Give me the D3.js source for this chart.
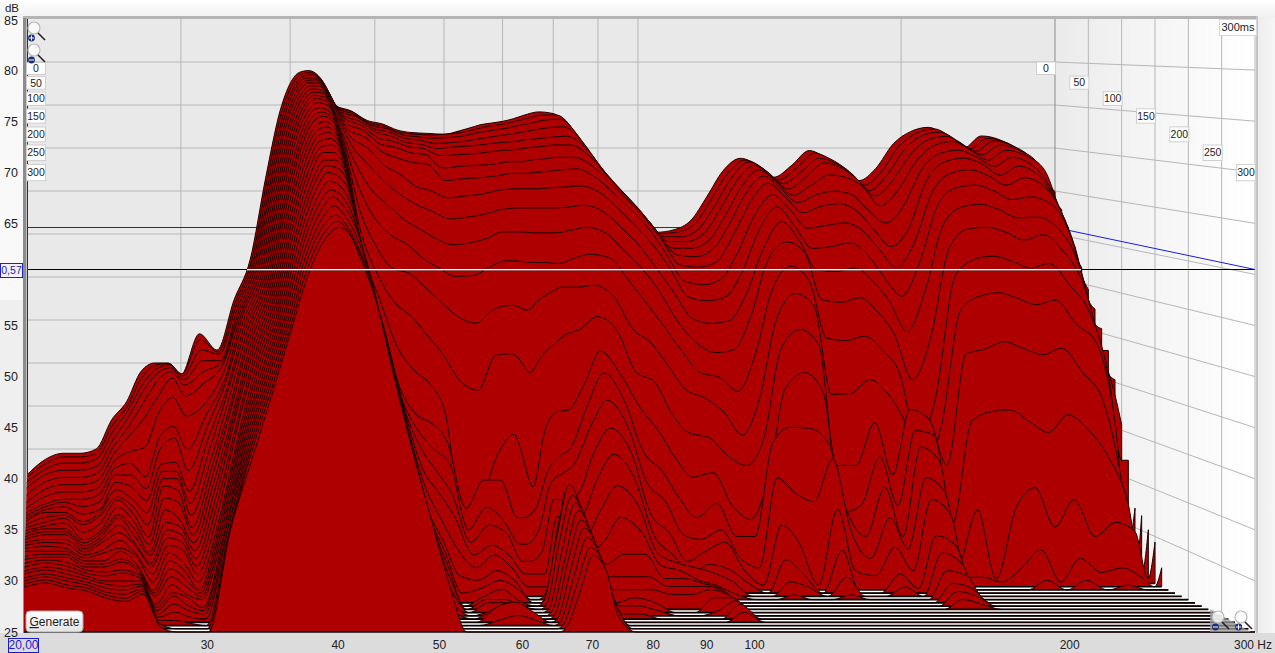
<!DOCTYPE html>
<html><head><meta charset="utf-8">
<script src="https://cdn.jsdelivr.net/npm/d3@7/dist/d3.min.js"></script>
<style>html,body{margin:0;padding:0;background:#fff;overflow:hidden}svg{display:block}text{font-family:"Liberation Sans",Arial,sans-serif}</style>
</head><body><svg id="c" width="1275" height="653"></svg>
<script>
const freqs=[20,21,22,23,24,25,26,27,28,29,30,31.5,33,34.5,36,37.5,39,40,41,42,43.5,45,47,49,51,53,55,57.5,60,62.5,65,66,68,70,72,74,77,80,84,88,92,96,100,105,110,115,120,125,131,137,143,150,157,164,171,179,187,196,205,215,225,236,247,260,273,286,295,300];
const t0=[32,33.8,34.5,34.5,35,38.4,40.5,44,45,45,43.6,48.4,46.5,52.3,57,66.5,74.5,77.5,78.8,79,77.9,75,74.3,73.2,72.8,72.1,71.8,71.7,71.6,72,72.5,72.7,72.9,73.1,73.4,73.8,74.2,74,72.1,68.5,65.9,63.7,61.8,60.2,60.5,61.6,64.4,67.3,68.8,68,66.6,68,69.7,68.9,67.8,66.2,67.6,70.5,71.9,72.4,71.4,70,71.4,70.9,69.5,67.4,65.7,64.9];
const t10=[32,33.6,34.4,34.4,34.8,38,40.2,43.5,45,45.2,44,48,46.5,52.2,57,66.4,74.4,77.3,78.6,78.8,77.6,74.9,74.2,73,72.6,71.9,71.7,71.6,71.7,71.9,72.3,72.5,72.7,72.9,73.2,73.5,73.9,73.9,71.9,68.5,66,63.8,61.9,60.2,60.4,61.4,64.2,67.1,68.7,67.8,66.4,67.8,69.5,68.8,67.6,65.8,67.3,70.3,71.8,72.3,71.3,70,71.2,70.7,69.2,66.4,63.8,63];
const t20=[31.8,33.3,34,34,34.5,37.6,40,43,44.8,45.3,44,47,46.5,52.2,57,66.3,74.2,77.1,78.4,78.6,77.2,74.7,74,72.8,72.4,71.7,71.5,71.3,71.4,71.6,72,72.1,72.3,72.5,72.8,73,73.4,73.5,71.5,68.4,66,63.9,61.9,60,60,61,63.8,66.8,68.6,67.5,66.1,67.5,69,68.4,67.2,65.3,67,70,71.6,72,71,69.8,71,70.4,68.9,65.3,61.9,61.1];
const t30=[31.5,33,33.5,33.5,34,37,39.5,42.5,44.5,45.2,43.8,46,46,52.1,57,66.2,74.1,77,78.2,78.3,76.8,74.4,73.8,72.5,72.1,71.4,71.2,70.8,70.9,71.1,71.4,71.5,71.7,71.9,72.1,72.3,72.6,72.7,71,68.2,65.8,63.8,61.8,59.6,59.6,60.5,63.3,66.4,68.3,67,65.6,67,68.6,68,66.7,64.8,66.5,69.5,71.2,71.6,70.6,69.5,70.6,70,68.4,63.8,60,59];
const t40=[31,32.5,33,33,33.5,36.5,38.8,41.5,44,45,43.5,45,46,52,57,66.2,73.9,76.8,78,78.1,76.4,74.1,73.4,72.2,71.7,71,70.8,70.3,70.5,70.6,70.8,70.9,71,71.1,71.3,71.4,71.6,71.7,70.4,67.8,65.6,63.6,61.4,59,59,59.8,62.6,65.8,67.9,66.5,65,66.2,67.3,67,66,63.8,65.5,68.8,70.6,71.1,70.2,69,70.1,69.5,67.8,62,58.2,56.8];
const t50=[30.5,32,32.5,32.5,33,36,38,40,42.5,44.5,42.5,44,46,52,56.9,66.1,73.8,76.6,77.8,77.8,76,73.8,73,71.6,71.2,70.6,70.4,69.6,69.7,69.8,70,70.1,70.2,70.3,70.5,70.6,70.8,70.8,69.6,67.3,65.2,63.2,61,58.4,58.2,59,61.8,65.2,67.3,65.8,64.3,65.2,65.6,65.2,63.5,62,63.8,68,69.8,70.2,69.5,68.4,69.4,68.5,65.8,60.5,56,54.5];
const t60=[30.2,31.5,32,32,32.5,35.5,36.5,37,41,42.6,40.5,42,45.5,52,56.8,66,73.5,76.3,77.5,77.5,75.5,73.3,72.5,71,70.6,70,69.8,68.3,68.5,68.6,68.7,68.8,69,69,69.2,69.3,69.5,69.5,68.5,66.5,64.6,62.6,60.3,57.4,57.2,57.8,60.8,64.3,66.6,65,63.3,64,64.3,63.5,61.5,59.5,61.5,67,69,69.4,68.8,67.5,68.5,67.5,64.2,59,53.5,52.5];
const t70=[30,31,31.5,31.5,32,35,35.5,34,38.5,39.6,37,41,45,52,56.7,65.8,73.3,76.1,77.2,77.1,75,72.7,71.8,70.2,69.5,69,68.8,67,67.2,67.3,67.5,67.6,67.8,67.8,67.9,68,68.2,68.3,67.3,65.5,63.6,61.6,59,55.8,55.4,56,59,63,65.4,63.7,61.7,62,62.3,61.5,59.5,57.3,60,65.8,67.8,68.2,67.6,66.5,67.3,66.3,62.8,56.3,51,50.5];
const t80=[30,31,31.5,31,31.5,34.5,34.5,33,37.5,38.6,35,40,45,51.8,56.6,65.7,73.1,75.8,76.9,76.8,74.4,72,70.7,68.8,67.8,66.5,66,65.2,65.4,65.6,66,66.1,66.2,66.2,66.2,66.3,66.4,66.5,65.8,64,62,60,57.5,54.2,53.8,54.2,57,61.5,64.2,62,59.6,59.8,60.2,59,56.5,54.3,58,64.5,66.3,66.6,66,65,65.3,64.5,61,53.3,48.3,48.3];
const t90=[30,31,31.3,30.5,31,34,33.5,32,36,36.2,33,39,44.5,51.6,56.5,65.6,72.9,75.6,76.6,76.4,73.8,71,68.8,66.9,65.5,64.5,63.8,63,63.2,63.5,64,64.1,64.2,64.2,64.2,64.2,64.3,64.5,63.8,62,60,57.5,55,52,51.5,51.8,54.8,59.6,62.7,60.5,57.4,57.2,57.6,56.2,54,50.6,55,62.5,64.3,64.6,64,63.1,63.2,62,58.5,51,46,45.3];
const t100=[30,31,31,30,31,33.5,32.5,31,35.5,35.5,32,38,44.5,51.4,56.4,65.5,72.7,75.4,76.3,76,73,69.5,66.3,64.6,63,62,61,60.3,60.5,61,61.7,61.7,61.7,61.6,61.6,61.6,61.9,62.2,61.5,59.5,57.5,55,52,49.5,48.5,48.8,52.5,58.5,60.6,59.5,54.3,54,54.5,53,50.5,45.5,50,60,62,62.2,61.7,60.8,61.4,59.5,56,48.5,43.9,40.6];
const t110=[30,30.8,31,30,31,33,32,30,35,35,31,37,44,51.2,56.3,65.3,72.5,75,75.9,75.6,72.2,67.5,63.5,61.5,60.5,59,58,57,57.1,58,58.7,58.7,58.6,58.5,58.5,58.4,59,59.4,59,56.5,54,51.5,49,46.5,46,44.5,48.5,55.5,58.1,56.5,50.3,50,50.5,49,46.5,38.9,44,57,58.8,59.2,58.7,57.9,58.4,56,53,46,37,37];
const t120=[30,30.6,31,29.5,30.5,33,31.5,29,34.5,34,30,36.5,43.5,51,56.2,65.1,72.1,74.7,75.4,75,71.2,65,60.5,58,57.5,56,54.5,52.8,52.1,53.5,54,54,53.5,54.6,55.4,56,56,56.2,55,51.5,50,47.5,45,44,42.5,40,44,52.5,55.3,54,44.4,44.5,46,44.5,41.5,36.5,41,53.5,55,55.4,54.8,54.1,54.6,52,50,41,28,32.1];
const t130=[30,30.5,30.8,29,30,32.5,31,28.5,33.5,33,29.5,36,43.5,50.8,56.1,65,71.8,74.3,75,74.5,70,62.5,57.5,54.5,53,51,49,46,45.1,48.8,49,48.6,47,48.8,50,51,51.7,53,51.5,47,46,42.5,40.5,40,38,37,40,49.5,51.6,50,37,37,41.6,36,43,42,37,49,49.5,50.3,49.6,48.9,49.6,47,44,35,25,31.6];
const t140=[30,30.5,30.5,29,30,32,30.5,28,32.5,31.5,29,35.5,43,50.6,56,64.9,71.6,74,74.6,74,68.8,60.5,55,50,47.5,46,43,31,33.5,38.5,40.6,39,35,41,43,43.2,46,49.5,47,43.5,41,38,36,36.5,33,31.5,36,45.5,47.2,45,32.2,33,38.2,33,41,40.5,31,42,43,43.2,42,40.8,42.7,41,38,33,25.5,30.4];
const t150=[30,30.5,30.5,29,30,32,30,28,31.5,31,28.5,35,43,50.4,55.9,64.6,71.2,73.5,74.1,73.4,67.5,58.9,53,46,43,42,40,33,36,36,32,32,33,37,38.5,39.5,44,47.4,44.5,39,37,34,32,33.5,30,30,40,41.6,41.5,40,33,30,35.2,30,39.5,38,27,32.8,25.5,33,35.2,31,33.9,30,31.5,30.5,25.5,29.4];
const t160=[30,30.5,30.5,29,30,31.5,29.5,27.5,31,30.5,28,34.5,43,50.2,55.8,64.4,70.9,73.1,73.6,72.8,66.2,58.2,52.2,45,41.5,39.5,38,31,33.4,32,29.5,29.5,31,36,37,38,42,44.7,42,36,34,30.5,30,31,28,27,36.5,35,34,38.5,31,28,32.3,29,36.5,35,26,26,25.5,27,28.9,25.5,28,26.5,27,26,25,27];
const t170=[30,30.3,30.3,29,30,31,29.5,27.5,30.5,30,27.5,34,42.5,50,55.7,64.2,70.5,72.7,73.1,72.2,65,57.8,51.6,44.3,40,37.5,35,30,31.8,31,28,28,29,34.5,34.5,35,39.5,42,39.5,33,31,28,29,30,27,25.5,31.8,30,25.5,33.5,27,26.5,29.5,27,34.5,33,25,25,25,25,26,25,26,25,25.5,25,25,25];
const t180=[30,30.3,30.2,29,29.5,30.5,29,27,30,29.5,27,33.5,42.5,49.8,55.6,64,70.1,72.2,72.5,71.5,63.8,57.4,51,43.6,38,35.5,33,29,30,29,27,27,27,33,33,33,37,39.5,37,31,29,27,28,27.5,26,25,28.5,27,25,29.5,25,25,27,25.5,31,30,25,25,25,25,25,25,25,25,25,25,25,25];
const t190=[30,30.2,30,29,29.5,30,29,26.5,29.5,28.5,26.5,33,42,49.6,55.5,63.8,69.7,71.7,71.9,70.8,62.8,57,50.1,42.5,36.5,33,30,28,29.3,28,26,26,26,33,31.5,31,34,36.5,34.5,29.5,28.5,28,27.5,26.5,25,25,26.5,26,25,27,25,25,26,25,29.5,28.5,25,25,25,25,25,25,25,25,25,25,25,25];
const t200=[30,30,30,29,29,30,28.5,26,29,28,26,33,42,49.4,55.4,63.5,69.3,71.2,71.2,70,61.5,56.5,49.3,41.5,34.5,31,27.5,27,28,27,25,25,27,34.5,33,30,31,33.5,32,28.5,28,27,26.5,25.5,25,25,25.5,25,25,25.5,25,25,25,25,28,27.5,25,25,25,25,25,25,25,25,25,25,25,25];
const t210=[29.8,30,30,29,29,29.5,28.5,26,28.5,27.5,26,33,42,49.2,55.3,63.2,68.7,70.5,70.5,69.2,61,56,48.6,41,34,30,26,26.5,27.3,26.5,25,25,29,36.5,34,31,29,30,30,27.5,27.5,27,26.5,25,25,25,25,25,25,25,25,25,25,25,27,26.5,25,25,25,25,25,25,25,25,25,25,25,25];
const t220=[29.8,30,30,29,29,29.5,28.5,26,28,27,26,33,42,49,55.2,63,68.3,70,69.8,68.4,60.7,55.4,47.9,40.4,33.5,29,25,26,26.7,25.5,25,25.5,32,37.4,35,31,28,28,28,27,27,27,26.5,25,25,25,25,25,25,25,25,25,25,25,26.5,26,25,25,25,25,25,25,25,25,25,25,25,25];
const t230=[29.7,30,29.8,29,28.8,29,28.5,25.5,27.5,26.5,26,33,42,48.9,55.1,62.7,67.8,69.4,69,67.5,60.5,54.8,47.2,39.8,33,28,25,26,26,25.3,25,25.5,32,36.6,34.5,30.5,27,27,27,26.5,26.5,27,26.5,25,25,25,25,25,25,25,25,25,25,25,26,25.5,25,25,25,25,25,25,25,25,25,25,25,25];
const t240=[29.6,30,29.7,29,28.7,29,28.5,25.5,27,26.5,25.5,33,42,48.8,55,62.3,67.1,68.6,68.1,66.4,60.3,54,46.5,39,31,27,25,26,26,25,25,25.5,31.5,36.1,34,30,26,26.5,26,25,25,26.5,26.5,25,25,25,25,25,25,25,25,25,25,25,25,25,25,25,25,25,25,25,25,25,25,25,25,25];
const t250=[29.5,29.9,29.6,29,28.5,28.5,28.5,25.5,27,26,25.5,33.5,42,48.7,54.9,62,66.5,67.8,67.2,65.3,60,53.2,45.7,38.2,30,26,25,25.5,26,25,25,25.5,31,35.6,33.5,29.5,26,26,25.5,25,25,25.5,26.5,25,25,25,25,25,25,25,25,25,25,25,25,25,25,25,25,25,25,25,25,25,25,25,25,25];
const t260=[29.5,29.9,29.5,29,28.5,28.3,28.5,25.5,26.5,25.8,25.5,33.5,42,48.6,54.8,61.6,65.9,67.2,66.3,64.5,59.6,52.6,45,37.6,29.8,25.5,25,26,26.5,25,25,25.5,31,34.9,33,29,25.5,25.5,25,25,25,25,26.5,25,25,25,25,25,25,25,25,25,25,25,25,25,25,25,25,25,25,25,25,25,25,25,25,25];
const t270=[29.4,29.8,29.4,29,28.4,28.2,28.6,25.5,26,25.5,25.3,34,42,48.5,54.7,61.3,65.3,66.4,65.4,63.5,59,52.2,44.4,37.2,29.7,25,25,26.5,27,26,25,25.5,30.5,34.4,32.5,28.5,25,25,25,25,25,25,26,25,25,25,25,25,25,25,25,25,25,25,25,25,25,25,25,25,25,25,25,25,25,25,25,25];
const t280=[29.4,29.8,29.4,29,28.3,28.1,28.6,25.5,25.5,25.2,25,34,42,48.4,54.6,61,64.7,65.6,64.6,62.6,58.4,51.6,43.8,36.8,29.6,25,25,25.5,26,25.5,25,25.5,30,33.7,32,28,25,25,25,25,25,25,25,25,25,25,25,25,25,25,25,25,25,25,25,25,25,25,25,25,25,25,25,25,25,25,25,25];
const t290=[29.4,29.8,29.3,29,28.3,28,28.7,25.5,25,25,25,34.5,42,48.3,54.5,60.7,64.2,65.1,64.1,62,57.7,51.1,43.3,36.4,29.6,25,25,25,25,25,25,25.5,29.5,33,31.5,27.5,25,25,25,25,25,25,25,25,25,25,25,25,25,25,25,25,25,25,25,25,25,25,25,25,25,25,25,25,25,25,25,25];
const t300=[29.4,29.8,29.3,29,28.3,28,28.7,25.5,25,25,25,35,41.8,48.2,54.5,60.4,63.8,64.6,63.8,61.4,57,50.6,42.8,36,29.6,25,25,25,25,25,25,25.5,29,32.5,31,26.5,25,25,25,25,25,25,25,25,25,25,25,25,25,25,25,25,25,25,25,25,25,25,25,25,25,25,25,25,25,25,25,25];
const slices=[t0,t10,t20,t30,t40,t50,t60,t70,t80,t90,t100,t110,t120,t130,t140,t150,t160,t170,t180,t190,t200,t210,t220,t230,t240,t250,t260,t270,t280,t290,t300];
const dbTicks=[85,80,75,70,65,60,55,50,45,40,35,30,25];
const freqTicks=[30,40,50,60,70,80,90,100,200];
const backFreqLines=[30,40,50,60,70,80,90,100,200];
const depthTicks=[0,50,100,150,200,250,300];
const depthBoxY=[68,82.5,98.5,116,134.5,153,173];
const cursorDb=60.57;

const svg=d3.select("#c");
const W=1275,H=653;
const lerp=(a,b,s)=>a+(b-a)*s;
const xAt=s=>d3.scaleLog().domain([20,300]).range([lerp(27,24,s),lerp(1055,1255,s)]);
const yAt=s=>d3.scaleLinear().domain([25,85]).range([lerp(535,632,s),19]);
const depth=d3.scaleLinear().domain([0,300]).range([0,1]);
const xB=xAt(0),xF=xAt(1),yB=yAt(0),yF=yAt(1);

const defs=svg.append("defs");
function grad(id,x2,y2,stops){const g=defs.append("linearGradient").attr("id",id).attr("x1",0).attr("y1",0).attr("x2",x2).attr("y2",y2);
 stops.forEach(s=>g.append("stop").attr("offset",s[0]).attr("stop-color",s[1]));}
grad("top",0,1,[[0,"#ffffff"],[1,"#f0f0f0"]]);
grad("wall",1,0,[[0,"#ebebeb"],[1,"#ffffff"]]);
grad("right",1,0,[[0,"#ececec"],[1,"#f6f6f6"]]);
grad("btn",0,1,[[0,"#ffffff"],[1,"#e4e4e4"]]);

// page
svg.append("rect").attr("width",W).attr("height",H).attr("fill","#f9f9f9");
svg.append("rect").attr("width",W).attr("height",18).attr("fill","url(#top)");
svg.append("rect").attr("x",0).attr("y",300).attr("width",23).attr("height",340).attr("fill","#efefef");
svg.append("rect").attr("x",1256).attr("y",18).attr("width",19).attr("height",620).attr("fill","url(#right)");
svg.append("rect").attr("x",0).attr("y",633).attr("width",W).attr("height",20).attr("fill","#dcdcdc");
// frame shadow
svg.append("rect").attr("x",23).attr("y",16).attr("width",1234).attr("height",3).attr("fill","#b4b4b4");
svg.append("rect").attr("x",1256).attr("y",16).attr("width",2).attr("height",617).attr("fill","#c4c4c4");

// walls
svg.append("rect").attr("x",xB(20)).attr("y",19).attr("width",xB(300)-xB(20)).attr("height",613).attr("fill","#e9e9e9");
svg.append("rect").attr("x",xB(300)).attr("y",19).attr("width",xF(300)-xB(300)).attr("height",613).attr("fill","url(#wall)");
svg.append("rect").attr("x",23).attr("y",18).attr("width",3.5).attr("height",615).attr("fill","#8c8c8c");

// grid
const grid=svg.append("g").attr("stroke","#b6b6b6").attr("stroke-width",1).attr("fill","none");
backFreqLines.forEach(f=>grid.append("line").attr("x1",xB(f)).attr("x2",xB(f)).attr("y1",19).attr("y2",632));
depthTicks.slice(1).forEach(t=>{const s=depth(t),x=xAt(s)(300);grid.append("line").attr("x1",x).attr("x2",x).attr("y1",19).attr("y2",632);});
dbTicks.slice(1,12).forEach(d=>{grid.append("line").attr("x1",xB(20)).attr("x2",xB(300)).attr("y1",yB(d)).attr("y2",yB(d));
 grid.append("line").attr("x1",xB(300)).attr("x2",xF(300)).attr("y1",yB(d)).attr("y2",yF(d));});
svg.append("line").attr("x1",xB(300)).attr("x2",xB(300)).attr("y1",19).attr("y2",632).attr("stroke","#8a8a8a");

// floor backing for the stripes
svg.append("path").attr("fill","#ffffff").attr("d",`M${xAt(.5)(20)},${yAt(.5)(25)}L${xAt(.5)(300)},${yAt(.5)(25)}L${xF(300)},${yF(25)}L${xF(20)},${yF(25)}Z`);

// cursor behind the surface
const curY=Math.round(yF(cursorDb))+.5;
const curBackY=Math.floor(yB(cursorDb))-1.5;
svg.append("line").attr("x1",xB(20)).attr("x2",xF(300)).attr("y1",curY).attr("y2",curY).attr("stroke","#000");
svg.append("path").attr("fill","none").attr("stroke","#1a1ae0").attr("stroke-width",1)
 .attr("d",`M${xB(20)},${curBackY}L${xB(300)},${curBackY}L${xF(300)},${curY}`);

// waterfall, back to front
const surf=svg.append("g");
slices.forEach((vals,k)=>{
 const s=k/(slices.length-1),x=xAt(s),y=yAt(s);
 const pts=freqs.map((f,i)=>[f,vals[i]]);
 const area=d3.area().x(d=>x(d[0])).y1(d=>y(d[1])).y0(y(25)).curve(d3.curveMonotoneX);
 const line=d3.line().x(d=>x(d[0])).y(d=>y(d[1])).curve(d3.curveMonotoneX);
 surf.append("path").attr("d",area(pts)).attr("fill","#ae0000");
 surf.append("line").attr("x1",x(20)).attr("x2",x(300)).attr("y1",y(25)).attr("y2",y(25)).attr("stroke","#000").attr("stroke-width",1.7);
 surf.append("path").attr("d",line(pts)+`V${y(25)}`).attr("fill","none").attr("stroke","#1c0000").attr("stroke-width",1);
});

// cursor over the surface
svg.append("line").attr("x1",247).attr("x2",1081).attr("y1",curY).attr("y2",curY).attr("stroke","#ffffff").attr("stroke-width",1);
svg.append("line").attr("x1",247).attr("x2",1081).attr("y1",curY+1).attr("y2",curY+1).attr("stroke","#8a8a8a").attr("stroke-width",.7);
svg.append("line").attr("x1",xB(20)+.5).attr("x2",xB(20)+.5).attr("y1",19).attr("y2",yF(40)).attr("stroke","#1a1ae0").attr("stroke-width",1);

// magnifier corner
svg.append("path").attr("fill","#9a9a9a").attr("opacity",.75).attr("d",`M1210,609L1251,632L1210,632Z`);

// tick labels
const lab=(x,y,t,a="middle",fs=12,col="#222")=>svg.append("text").attr("x",x).attr("y",y).attr("text-anchor",a).attr("font-size",fs).attr("fill",col).text(t);
lab(12,11.5,"dB","middle",11.5);
dbTicks.forEach(d=>{ if(d!==60) lab(18,yF(d)+ (d===85?6:4.5),d,"end",12.5); });
freqTicks.forEach(f=>lab(xF(f)-1,649,f,"middle",12));
lab(1253,649,"300 Hz","middle",12);

// boxes
function box(x,y,w,h,t,stroke="#cfcfcf",fs=10.5,col="#222",fill="#fff"){
 svg.append("rect").attr("x",x+.5).attr("y",y+.5).attr("width",w).attr("height",h).attr("fill",fill).attr("stroke",stroke);
 svg.append("text").attr("x",x+w/2+.5).attr("y",y+h/2+4.2).attr("text-anchor","middle").attr("font-size",fs).attr("fill",col).text(t);
}
depthTicks.forEach((t,i)=>{
 box(26,depthBoxY[i]-6-i*.5,19,12+i*.7,t);
 const xr=xAt(depth(t))(300);
 box(xr-19,depthBoxY[i]-6.5-i*.4,19,12.5+i*.6,t);
});
box(1219,19,37,16,"300ms","#d8d8d8",11);
box(0,263,22,14,"0,57","#2222bb",10.5,"#2222bb","#f2f2f2");
box(8,638,30,14,"20,00","#1a1acc",12,"#1a1acc","#dcdcdc");

// Generate button
svg.append("rect").attr("x",26).attr("y",611).attr("width",57).attr("height",21).attr("rx",4).attr("fill","url(#btn)").attr("stroke","#a8a8a8");
const g=svg.append("text").attr("x",54.5).attr("y",626).attr("text-anchor","middle").attr("font-size",12).attr("fill","#222");
g.append("tspan").attr("text-decoration","underline").text("G");g.append("tspan").text("enerate");

// magnifiers
function mag(cx,cy,sign){
 const m=svg.append("g").attr("transform",`translate(${cx},${cy})`);
 m.append("circle").attr("cx",0).attr("cy",0).attr("r",6).attr("fill","#fdfdfd").attr("fill-opacity",.8).attr("stroke","#b8b8b8").attr("stroke-width",1.2);
 m.append("line").attr("x1",4).attr("y1",5).attr("x2",11).attr("y2",12).attr("stroke","#222").attr("stroke-width",1.6);
 m.append("circle").attr("cx",-2.5).attr("cy",10).attr("r",3.4).attr("fill","#1a2f7a");
 m.append("line").attr("x1",-5).attr("x2",0).attr("y1",10).attr("y2",10).attr("stroke","#fff").attr("stroke-width",1);
 if(sign==="+")m.append("line").attr("x1",-2.5).attr("x2",-2.5).attr("y1",7.5).attr("y2",12.5).attr("stroke","#fff").attr("stroke-width",1);
}
mag(34,28,"+");mag(34,50,"-");mag(1218,617,"-");mag(1241,617,"+");
</script></body></html>
